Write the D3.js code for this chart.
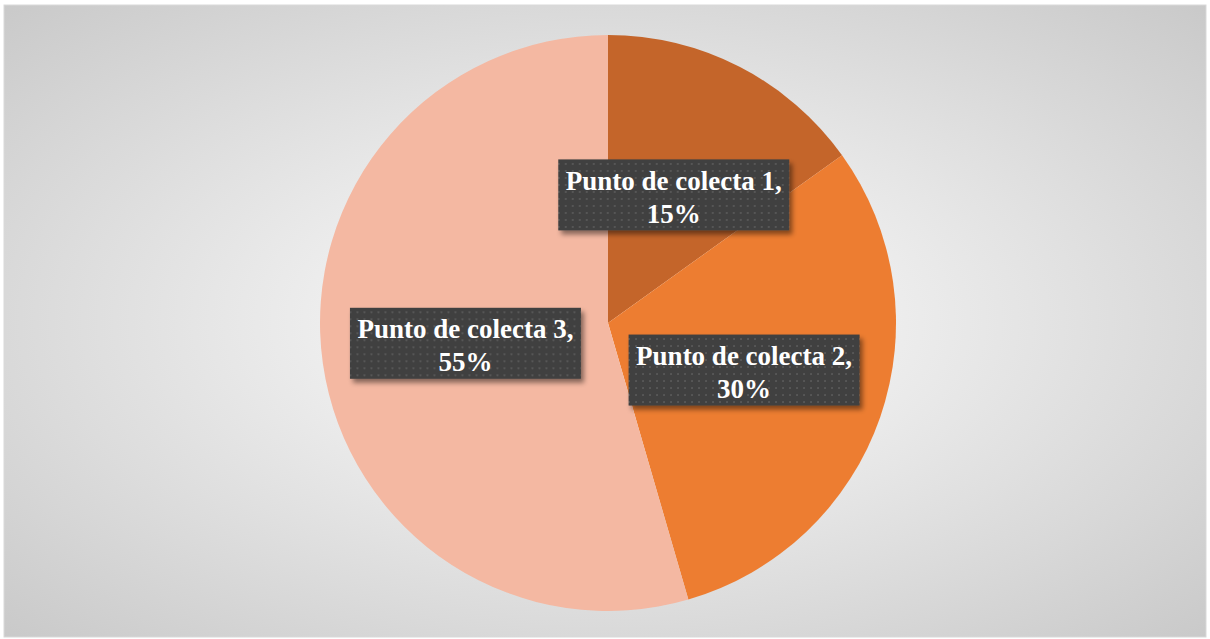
<!DOCTYPE html>
<html>
<head>
<meta charset="utf-8">
<script src="https://cdn.jsdelivr.net/npm/d3@7"></script>
<style>
  body { margin: 0; background: #fff; }
  svg { display: block; }
</style>
</head>
<body>
<div id="plot"></div>
<script>
// Chart data
const categories = ["Punto de colecta 1", "Punto de colecta 2", "Punto de colecta 3"];
const shares = [15.1, 30.4, 54.5];
const sliceColors = ["#C4652A", "#ED7D31", "#F4B8A2"];

const W = 1210, H = 639;
const cx = 608, cy = 323, radius = 288;

const svg = d3.select("#plot")
  .append("svg")
    .attr("width", W)
    .attr("height", H);

const defs = svg.append("defs");

// background radial gradient
const bg = defs.append("radialGradient")
  .attr("id", "bg")
  .attr("cx", "50%").attr("cy", "50%").attr("r", "71%");
bg.append("stop").attr("offset", "0%").attr("stop-color", "#ffffff");
bg.append("stop").attr("offset", "100%").attr("stop-color", "#c9c9c9");

// dotted pattern for the label boxes
const pat = defs.append("pattern")
  .attr("id", "dots")
  .attr("width", 7).attr("height", 7)
  .attr("patternUnits", "userSpaceOnUse");
pat.append("rect").attr("width", 7).attr("height", 7).attr("fill", "#3f3f3f");
pat.append("rect").attr("x", 3).attr("y", 3).attr("width", 2).attr("height", 2).attr("fill", "#565656");

// drop shadow
const shadow = defs.append("filter")
  .attr("id", "shadow")
  .attr("x", "-10%").attr("y", "-20%").attr("width", "130%").attr("height", "150%");
shadow.append("feDropShadow")
  .attr("dx", 3).attr("dy", 4).attr("stdDeviation", 2.5)
  .attr("flood-color", "#000").attr("flood-opacity", 0.45);

svg.append("rect")
  .attr("x", 4).attr("y", 5)
  .attr("width", 1202).attr("height", 632)
  .attr("fill", "url(#bg)")
  .attr("stroke", "#d9d9d9");

const pie = d3.pie().sort(null).value(d => d);
const arc = d3.arc().innerRadius(0).outerRadius(radius);
const arcs = pie(shares);

const g = svg.append("g").attr("transform", `translate(${cx},${cy})`);

g.selectAll("path.slice")
  .data(arcs)
  .enter().append("path")
    .attr("class", "slice")
    .attr("d", arc)
    .attr("fill", (d, i) => sliceColors[i]);

// labels
const labels = g.selectAll("g.label")
  .data(arcs)
  .enter().append("g")
    .attr("class", "label")
    .attr("transform", d => `translate(${arc.centroid(d)})`);

const boxW = 231, boxH = 71;
labels.append("rect")
  .attr("x", -boxW / 2).attr("y", -boxH / 2)
  .attr("width", boxW).attr("height", boxH)
  .attr("fill", "url(#dots)")
  .attr("filter", "url(#shadow)");

const txt = labels.append("text")
  .attr("text-anchor", "middle")
  .attr("fill", "#ffffff")
  .style("font-family", "'Liberation Serif', 'Times New Roman', serif")
  .style("font-weight", "bold")
  .style("font-size", "27px");

txt.append("tspan")
  .attr("x", 0).attr("y", -5)
  .text((d, i) => categories[i] + ",");
txt.append("tspan")
  .attr("x", 0).attr("y", 28)
  .text(d => Math.round(d.data) + "%");
</script>
</body>
</html>
